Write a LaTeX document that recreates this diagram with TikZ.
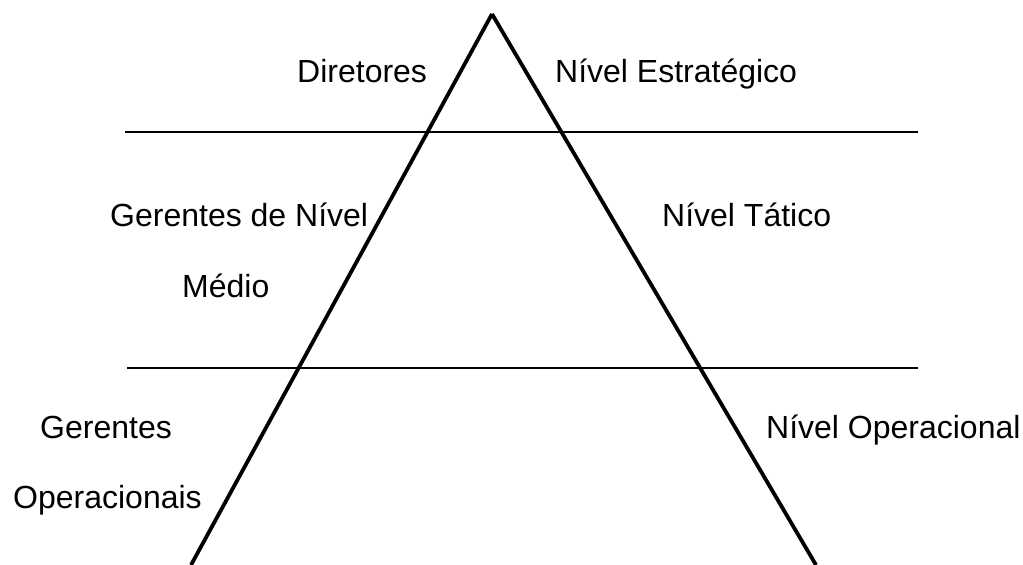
\documentclass[tikz,border=0pt]{standalone}
\usepackage{fontspec}
\setmainfont{Liberation Sans}
\usepackage{tikz}

\begin{document}
\begin{tikzpicture}[x=1pt,y=-1pt]
        \tikzstyle{every node} = [rectangle, inner sep=0pt, anchor=base west, font=\fontsize{32}{38}\selectfont]
        \useasboundingbox (0,0) rectangle (1023,565);
        \coordinate (top) at (492,14);
        \coordinate (bl) at (191,565);
        \coordinate (br) at (816,565);
        \coordinate (a1) at (125,132);
        \coordinate (a2) at (918,132);
        \coordinate (b1) at (127,368);
        \coordinate (b2) at (918,368);

        \node (dir) at (297,82) {Diretores};
        \node (est) at (555,82) {Nível Estratégico};
        \node (ger) at (110,226) {Gerentes de Nível};
        \node (med) at (182,297) {Médio};
        \node (tat) at (662,226) {Nível Tático};
        \node (gop) at (40,438) {Gerentes};
        \node (ops) at (13,508) {Operacionais};
        \node (nop) at (766,438) {Nível Operacional};

        \foreach \from/\to in {a1/a2, b1/b2}
            \draw[line width=2pt] (\from) -- (\to);
        \foreach \from/\to in {bl/top, top/br}
            \draw[line width=3.8pt] (\from) -- (\to);
      \end{tikzpicture}
\end{document}
